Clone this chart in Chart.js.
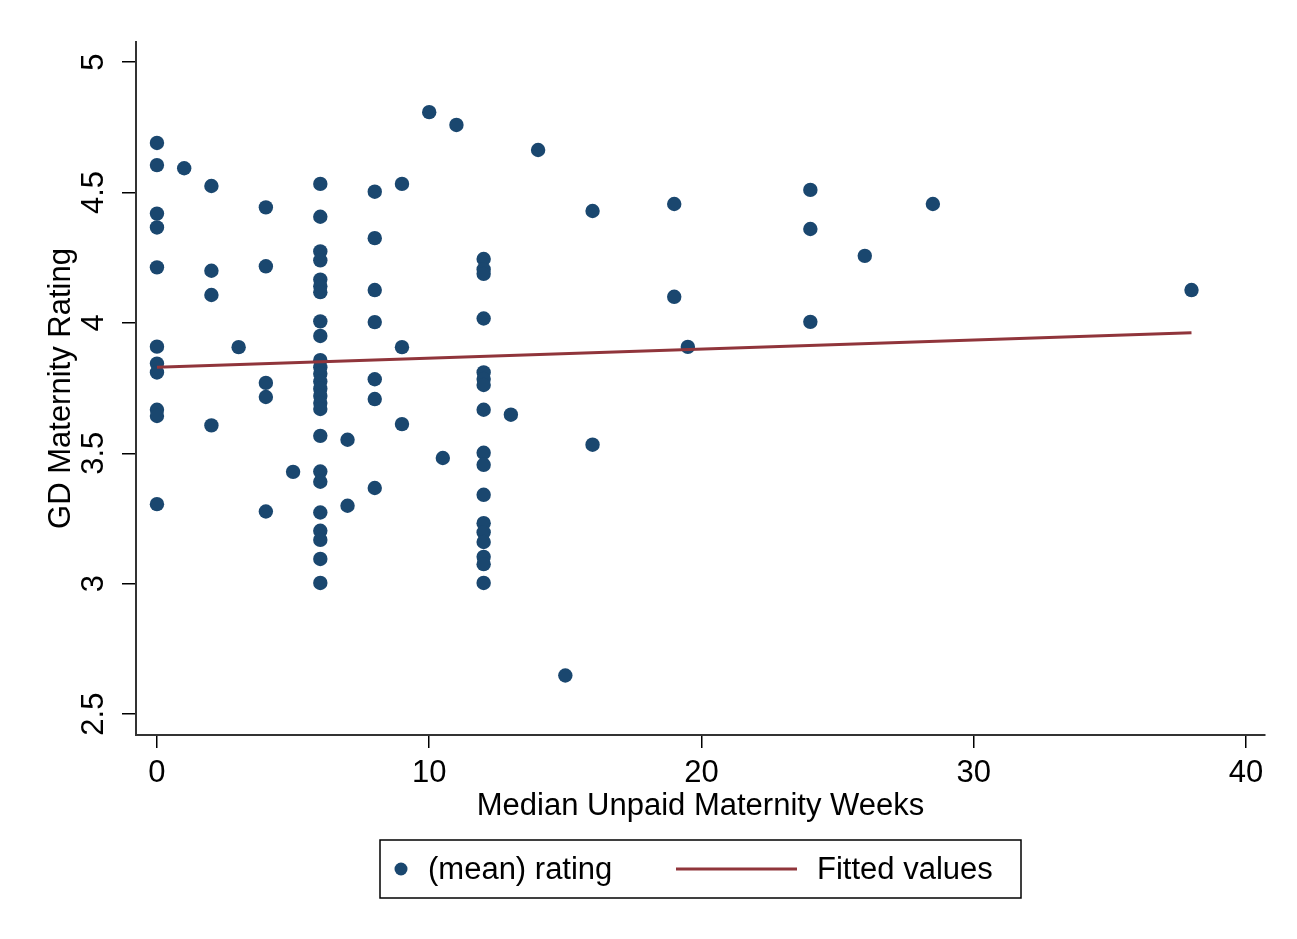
<!DOCTYPE html>
<html>
<head>
<meta charset="utf-8">
<script src="https://cdn.jsdelivr.net/npm/chart.js@4"></script>
<style>
  body { margin: 0; background: #fff; }
  canvas { display: block; }
</style>
</head>
<body>
<canvas id="chart" width="1297" height="939"></canvas>
<script>
// data (weeks, mean rating)
var weeks = [
  0, 0, 0, 0, 0, 0, 0, 0, 0, 0, 0,
  1,
  2, 2, 2, 2,
  3,
  4, 4, 4, 4, 4,
  5,
  6, 6, 6, 6, 6, 6, 6, 6, 6, 6, 6, 6, 6, 6, 6, 6, 6, 6, 6, 6, 6, 6, 6, 6, 6,
  7, 7,
  8, 8, 8, 8, 8, 8, 8,
  9, 9, 9,
  10, 10.5, 11,
  12, 12, 12, 12, 12, 12, 12, 12, 12, 12, 12, 12, 12, 12, 12, 12, 12,
  13, 14, 15, 16, 16, 19, 19, 19.5,
  24, 24, 24, 26, 28.5, 38
];
var rating = [
  4.690, 4.605, 4.419, 4.366, 4.213, 3.909, 3.844, 3.810, 3.667, 3.643, 3.305,
  4.593,
  4.525, 4.200, 4.107, 3.607,
  3.907,
  4.443, 4.217, 3.770, 3.716, 3.277,
  3.429,
  4.533, 4.407, 4.274, 4.240, 4.166, 4.141, 4.118, 4.006, 3.950, 3.857, 3.830, 3.805, 3.775, 3.748, 3.720, 3.693, 3.670, 3.567, 3.430, 3.391, 3.273, 3.203, 3.168, 3.095, 3.003,
  3.552, 3.299,
  4.503, 4.325, 4.126, 4.003, 3.784, 3.708, 3.367,
  4.533, 3.907, 3.612,
  4.808, 3.482, 4.759,
  4.245, 4.205, 4.188, 4.017, 3.810, 3.785, 3.762, 3.667, 3.502, 3.456, 3.341, 3.232, 3.197, 3.160, 3.103, 3.075, 3.003,
  3.648, 4.663, 2.648, 4.429, 3.533, 4.456, 4.100, 3.908,
  4.510, 4.360, 4.004, 4.257, 4.456, 4.126
];

// fitted line end points
var fitWeeks = [0, 38];
var fitRating = [3.830, 3.962];

var xTicks = [0, 10, 20, 30, 40];
var yTicks = [2.5, 3, 3.5, 4, 4.5, 5];

var FONT = 'Liberation Sans, Arial, sans-serif';
var FSIZE = 31;
var navy = '#1a476f';
var maroon = '#90353b';

var scatterPts = weeks.map(function (w, i) { return { x: w, y: rating[i] }; });
var fitPts = fitWeeks.map(function (w, i) { return { x: w, y: fitRating[i] }; });

// boxed legend under the plot, drawn by hand
var boxLegend = {
  id: 'boxLegend',
  afterDraw: function (chart) {
    var ctx = chart.ctx;
    var ds = chart.data.datasets;
    var top = 840, bottom = 898, left = 380, right = 1021;
    var mid = (top + bottom) / 2;
    ctx.save();
    ctx.strokeStyle = '#000';
    ctx.lineWidth = 1.5;
    ctx.strokeRect(left, top, right - left, bottom - top);

    ctx.fillStyle = ds[1].backgroundColor;
    ctx.beginPath();
    ctx.arc(401, mid, 6.5, 0, Math.PI * 2);
    ctx.fill();

    ctx.strokeStyle = ds[0].borderColor;
    ctx.lineWidth = 3;
    ctx.beginPath();
    ctx.moveTo(676, mid);
    ctx.lineTo(797, mid);
    ctx.stroke();

    ctx.fillStyle = '#000';
    ctx.font = FSIZE + 'px ' + FONT;
    ctx.textBaseline = 'middle';
    ctx.textAlign = 'left';
    ctx.fillText(ds[1].label, 428, mid + 1);
    ctx.fillText(ds[0].label, 817, mid + 1);
    ctx.restore();
  }
};

new Chart(document.getElementById('chart'), {
  data: {
    datasets: [
      {
        type: 'line',
        label: 'Fitted values',
        data: fitPts,
        borderColor: maroon,
        borderWidth: 3,
        pointRadius: 0,
        fill: false,
        order: 0
      },
      {
        type: 'scatter',
        label: '(mean) rating',
        data: scatterPts,
        backgroundColor: navy,
        borderWidth: 0,
        pointRadius: 7.2,
        order: 1
      }
    ]
  },
  options: {
    responsive: false,
    animation: false,
    devicePixelRatio: 1,
    layout: { padding: { top: 42, right: 32, bottom: 104, left: 0 } },
    plugins: {
      legend: { display: false },
      tooltip: { enabled: false }
    },
    scales: {
      x: {
        type: 'linear',
        min: -0.77,
        max: 40.7,
        afterBuildTicks: function (axis) { axis.ticks = xTicks.map(function (v) { return { value: v }; }); },
        afterFit: function (axis) { axis.height = 100; },
        grid: { drawOnChartArea: false, drawTicks: true, tickLength: 13, color: '#000', lineWidth: 1.5 },
        border: { display: true, color: '#333', width: 2 },
        ticks: {
          maxRotation: 0,
          padding: 7,
          color: '#000',
          font: { family: FONT, size: FSIZE },
          callback: function (v) { return String(v); }
        },
        title: {
          display: true,
          text: 'Median Unpaid Maternity Weeks',
          color: '#000',
          font: { family: FONT, size: FSIZE },
          padding: { top: 0, bottom: 10 }
        }
      },
      y: {
        type: 'linear',
        min: 2.42,
        max: 5.077,
        afterBuildTicks: function (axis) { axis.ticks = yTicks.map(function (v) { return { value: v }; }); },
        afterFit: function (axis) { axis.width = 136; },
        grid: { drawOnChartArea: false, drawTicks: true, tickLength: 14, color: '#000', lineWidth: 1.5 },
        border: { display: true, color: '#333', width: 2 },
        ticks: {
          minRotation: 90,
          maxRotation: 90,
          crossAlign: 'center',
          padding: 6,
          color: '#000',
          font: { family: FONT, size: FSIZE },
          callback: function (v) { return String(v); }
        },
        title: {
          display: true,
          text: 'GD Maternity Rating',
          color: '#000',
          font: { family: FONT, size: FSIZE },
          padding: { top: 43, bottom: 0 }
        }
      }
    }
  },
  plugins: [boxLegend]
});
</script>
</body>
</html>
